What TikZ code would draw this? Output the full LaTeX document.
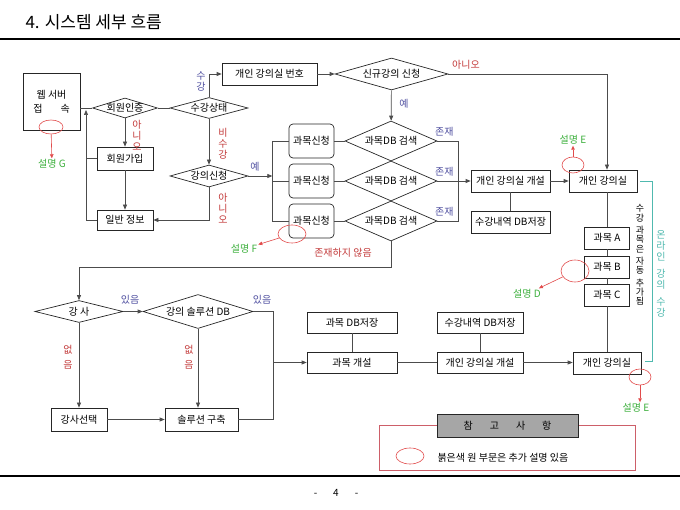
\documentclass[tikz,border=0pt]{standalone}
\usepackage{fontspec}
\setmainfont{Noto Sans CJK KR}
\usetikzlibrary{arrows.meta, shapes.geometric, positioning}
\definecolor{noteRed}{RGB}{195,60,60}
\definecolor{noteBlue}{RGB}{80,80,160}
\definecolor{noteGreen}{RGB}{60,175,60}
\definecolor{markRed}{RGB}{225,75,75}
\definecolor{legendRed}{RGB}{205,95,105}
\definecolor{bracketTeal}{RGB}{80,185,175}

\begin{document}
\begin{tikzpicture}[x=1pt, y=-1pt,
  font=\fontsize{10}{11}\selectfont,
  box/.style={draw=black!85, line width=0.7pt, inner sep=1pt},
  rbox/.style={box, rounded corners=4pt},
  dia/.style={diamond, draw=black!85, line width=0.7pt, inner sep=0pt},
  conn/.style={draw=black!70, line width=0.7pt},
  flow/.style={conn, -{Triangle[length=5pt,width=4pt]}},
  lblred/.style={text=noteRed, inner sep=1pt},
  lblblue/.style={text=noteBlue, inner sep=1pt},
  vtext/.style={align=center, inner sep=0pt},
  redmark/.style={ellipse, draw=markRed, line width=0.6pt, inner sep=0pt},
  notetext/.style={text=noteGreen, inner sep=1pt},
  markflow/.style={draw=markRed, line width=0.6pt, -{Triangle[length=4pt,width=3.5pt]}}
]
\useasboundingbox (0,0) rectangle (680,510);

% page frame
\node[anchor=west, font=\fontsize{17}{19}\selectfont] (title) at (22,22) {4. 시스템 세부 흐름};
\draw[line width=2pt] (0,39) -- (680,39);
\draw[line width=2.5pt] (0,476) -- (680,476);
\node (pagenum) at (336,493) {-\hspace{16pt}4\hspace{16pt}-};

% login part
\node[box, minimum width=57, minimum height=57, align=center] (web) at (51.5,101.5) {웹 서버\\[3pt]접\hspace{18pt}속};
\node[dia, minimum width=65, minimum height=20, label=center:회원인증] (auth) at (125,108) {};
\node[dia, minimum width=78, minimum height=21, label=center:수강상태] (status) at (209,108) {};
\node[box, minimum width=56, minimum height=23] (join) at (125,158.5) {회원가입};
\node[box, minimum width=56, minimum height=20] (info) at (125,220) {일반 정보};
\node[dia, minimum width=78, minimum height=22, label=center:강의신청] (apply) at (209,176) {};
\node[box, minimum width=95, minimum height=22] (roomno) at (269.5,74) {개인 강의실 번호};
\node[dia, minimum width=113, minimum height=32, label=center:신규강의 신청] (newreq) at (391.5,74) {};

\coordinate (backtop) at (86,110);
\draw[conn] (web.east |- auth.west) -- (auth.west);
\draw[conn] (auth) -- (status);
\draw[flow] (auth) -- (join);
\draw[flow] (join) -- (info);
\draw[flow] (info.west) -| (backtop);
\draw[conn] (join.west) -- (join.west -| backtop);
\draw[flow] (status.north) |- (roomno.west);
\draw[flow] (roomno) -- (newreq);
\draw[flow] (status) -- (apply);
\draw[flow] (apply.south) |- (info.east);
\draw[flow] (apply.east) -- ++(24,0) coordinate (fork);

\node[lblblue, vtext] (lblsugang) at (201,81) {수\\강};
\node[lblred, vtext] (lblno1) at (137,135) {아\\니\\오};
\node[lblred, vtext] (lblnonsugang) at (223,144) {비\\수\\강};
\node[lblred, vtext] (lblno2) at (223,208) {아\\니\\오};
\node[lblblue] (lblyes1) at (255,167) {예};
\node[lblblue] (lblyes2) at (404,104) {예};
\node[lblred] (lblno3) at (466,65) {아니오};

% course search
\draw[conn] (fork |- 0,141) -- (fork |- 0,221);
\foreach \i/\y in {1/141,2/181,3/221} {
  \node[rbox, minimum width=45, minimum height=34] (req\i) at (311.5,\y) {과목신청};
  \node[dia, minimum width=92, minimum height=40, label=center:과목DB 검색] (db\i) at (391,\y) {};
  \draw[conn] (fork |- req\i.west) -- (req\i.west);
  \draw[conn] (req\i) -- (db\i);
  \node[lblblue] (exist\i) at ([xshift=7pt,yshift=9pt]db\i.east) {존재};
}
\draw[flow] (newreq) -- (db1);
\draw[conn] (db1.east) -- ++(21,0) |- (db3.east);
\node[lblred] (lblnone) at (343,253) {존재하지 않음};

\node[box, minimum width=79, minimum height=22] (open1) at (510.5,181) {개인 강의실 개설};
\node[box, minimum width=79, minimum height=22] (hist1) at (510.5,222) {수강내역 DB저장};
\node[box, minimum width=68, minimum height=22] (room1) at (603,181) {개인 강의실};
\draw[flow] (db2.east) -- (open1.west);
\draw[conn] (open1) -- (hist1);
\draw[flow] (open1) -- (room1);
\draw[flow] (newreq.east) -| ([xshift=4pt]room1.north);

% subjects
\foreach \s/\y in {A/238,B/267,C/295}
  \node[box, minimum width=45, minimum height=22] (subj\s) at (607,\y) {과목 \s};
\node[box, minimum width=68, minimum height=22] (room2) at (607,363) {개인 강의실};
\draw[conn] (subjA.north |- room1.south) -- (subjA.north);
\draw[conn] (subjA) -- (subjB);
\draw[conn] (subjB) -- (subjC);
\draw[conn] (subjC) -- (room2);
\node[vtext, font=\fontsize{9}{9.3}\selectfont] (autoadd) at (640,255) {수\\강\\[3pt]과\\목\\은\\[3pt]자\\동\\[3pt]추\\가\\됨};
\draw[bracketTeal, line width=0.7pt] (640,181) -- (652,181) -- (652,361) -- (645,361);
\node[vtext, text=bracketTeal] (online) at (661,274) {온\\라\\인\\[6pt]강\\의\\[6pt]수\\강};

% lecturer and solution
\node[dia, minimum width=88, minimum height=22, label=center:강 사] (lect) at (79,311.5) {};
\node[dia, minimum width=110, minimum height=34, label=center:강의 솔루션 DB] (soldb) at (198,311.5) {};
\node[box, minimum width=56, minimum height=23] (pick) at (79,419.5) {강사선택};
\node[box, minimum width=73, minimum height=23] (build) at (201.5,419.5) {솔루션 구축};
\draw[flow] (db3.south) -- ++(0,26) -| (lect.north);
\draw[flow] (lect) -- (soldb);
\draw[flow] (lect) -- (pick);
\draw[flow] (soldb.south) -- (soldb.south |- build.north);
\draw[flow] (pick) -- (build);
\draw[conn] (soldb.east) -- ++(20,0) coordinate (solright) |- (build.east);
\node[lblblue] (have1) at (130,300) {있음};
\node[lblblue] (have2) at (262,300) {있음};
\node[lblred, vtext] (none1) at (68,357) {없\\[4pt]음};
\node[lblred, vtext] (none2) at (189,357) {없\\[4pt]음};

% opening
\node[box, minimum width=90, minimum height=21] (subjdb) at (352,322.5) {과목 DB저장};
\node[box, minimum width=90, minimum height=21] (subjopen) at (352,362.5) {과목 개설};
\node[box, minimum width=86, minimum height=21] (hist2) at (480,322.5) {수강내역 DB저장};
\node[box, minimum width=86, minimum height=21] (open2) at (480,362.5) {개인 강의실 개설};
\draw[flow] (solright |- subjopen.west) -- (subjopen.west);
\draw[conn] (subjdb) -- (subjopen);
\draw[conn] (hist2) -- (open2);
\draw[conn] (subjopen) -- (open2);
\draw[flow] (open2.east) -- (open2.east -| room2.west);

% notes
\node[redmark, minimum width=24, minimum height=14] (markG) at (51,127) {};
\node[notetext] (noteG) at (52,164) {설명 G};
\draw[markflow] (markG) -- (noteG);
\node[redmark, minimum width=28, minimum height=18] (markF) at (292,234) {};
\node[notetext] (noteF) at (244,249) {설명 F};
\draw[markflow] (markF) -- (noteF);
\node[redmark, minimum width=22, minimum height=16] (markE1) at (573,165) {};
\node[notetext] (noteE1) at (573,140) {설명 E};
\draw[markflow] (markE1) -- (noteE1);
\node[redmark, minimum width=28, minimum height=22] (markD) at (575,271) {};
\node[notetext] (noteD) at (527,294) {설명 D};
\draw[markflow] (markD) -- (noteD);
\node[redmark, minimum width=22, minimum height=16] (markE2) at (640,377) {};
\node[notetext] (noteE2) at (636,408) {설명 E};
\draw[markflow] (markE2.south) -- (markE2.south |- noteE2.north);

% legend
\node[draw=legendRed, line width=0.7pt, minimum width=256, minimum height=45] (legend) at (507,447.5) {};
\node[box, fill=black!35, minimum width=141, minimum height=23] (legendtitle) at (507.5,425.5) {참\hspace{17pt}고\hspace{17pt}사\hspace{17pt}항};
\node[redmark, minimum width=28, minimum height=16] (legendmark) at (410,456) {};
\node[anchor=west] (legendtext) at (434,458) {붉은색 원 부문은 추가 설명 있음};

\end{tikzpicture}
\end{document}
